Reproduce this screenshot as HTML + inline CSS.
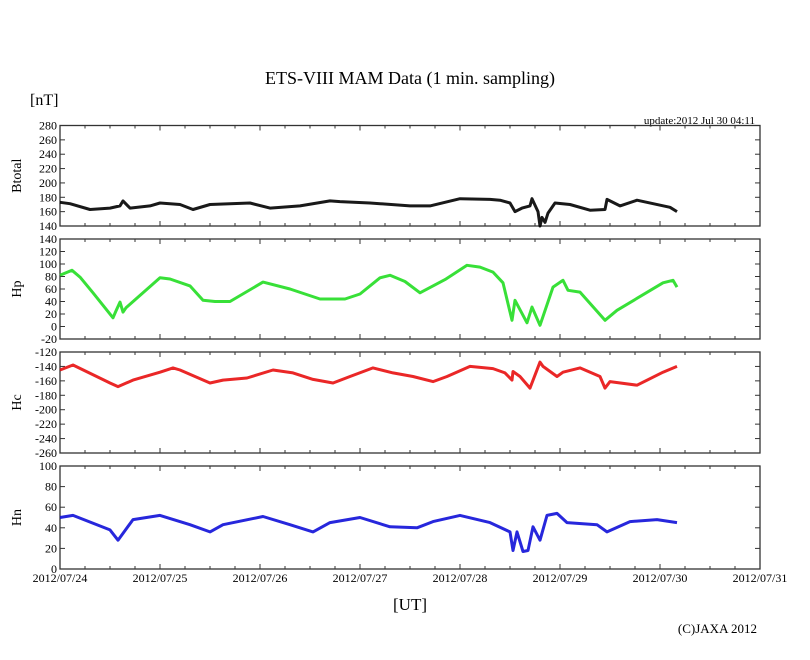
<!DOCTYPE html>
<html><head><meta charset="utf-8"><style>
body{margin:0;background:#fff;width:810px;height:655px;overflow:hidden}
svg text{font-family:"Liberation Serif",serif;fill:#000}
</style></head><body>
<svg id="c" width="810" height="655" xmlns="http://www.w3.org/2000/svg">
<text x="410" y="84" text-anchor="middle" font-size="18">ETS-VIII MAM Data (1 min. sampling)</text>
<text x="30" y="105" font-size="16">[nT]</text>
<text x="755" y="124" text-anchor="end" font-size="11">update:2012 Jul 30 04:11</text>
<text x="410" y="610" text-anchor="middle" font-size="17">[UT]</text>
<text x="757" y="633" text-anchor="end" font-size="13">(C)JAXA 2012</text>
<g id="plots"></g>
</svg>
<script>
// x positions in days since 2012/07/24 00:00
const xTickLabels=["2012/07/24","2012/07/25","2012/07/26","2012/07/27","2012/07/28","2012/07/29","2012/07/30","2012/07/31"];
const btDays=[0,0.1,0.3,0.5,0.6,0.63,0.7,0.9,1.0,1.2,1.33,1.5,1.9,2.1,2.4,2.7,2.8,3.1,3.5,3.7,4.0,4.3,4.4,4.5,4.55,4.62,4.7,4.72,4.78,4.8,4.82,4.85,4.88,4.95,5.1,5.3,5.45,5.47,5.6,5.77,6.1,6.17];
const btVals=[173,171,163,165,168,175,165,168,172,170,163,170,172,165,168,175,174,172,168,168,178,177,176,172,160,165,168,178,160,140,152,145,158,172,170,162,163,177,168,176,166,160];
const hpDays=[0,0.12,0.2,0.33,0.53,0.56,0.6,0.63,0.66,1.0,1.1,1.3,1.43,1.55,1.7,2.03,2.3,2.6,2.85,3.0,3.2,3.3,3.45,3.6,3.85,4.07,4.2,4.33,4.43,4.52,4.55,4.67,4.72,4.8,4.93,5.03,5.08,5.2,5.45,5.57,6.03,6.13,6.17];
const hpVals=[82,90,79,54,14,25,39,23,30,78,76,65,42,40,40,71,60,44,44,52,78,82,72,54,75,98,95,87,70,10,42,6,31,2,63,74,58,55,10,26,70,74,63];
const hcDays=[0,0.13,0.5,0.58,0.73,1.0,1.13,1.2,1.5,1.63,1.87,2.13,2.33,2.53,2.73,2.9,3.13,3.33,3.53,3.73,3.87,4.1,4.33,4.45,4.52,4.53,4.6,4.7,4.8,4.83,4.97,5.03,5.2,5.4,5.45,5.5,5.77,6.03,6.17];
const hcVals=[-145,-138,-163,-168,-159,-148,-142,-145,-163,-159,-156,-145,-149,-158,-163,-154,-142,-149,-154,-161,-154,-140,-143,-149,-159,-147,-154,-170,-134,-140,-154,-148,-142,-154,-170,-161,-166,-148,-140];
const hnDays=[0,0.13,0.5,0.58,0.73,1.0,1.3,1.5,1.63,2.03,2.3,2.53,2.7,3.0,3.3,3.57,3.73,4.0,4.3,4.5,4.53,4.57,4.63,4.68,4.73,4.8,4.87,4.97,5.07,5.37,5.47,5.7,5.97,6.17];
const hnVals=[50,52,38,28,48,52,43,36,43,51,43,36,45,50,41,40,46,52,45,36,18,36,17,18,41,28,52,54,45,43,36,46,48,45];

const X0=60,X1=760,NS='http://www.w3.org/2000/svg';
const xs=d=>X0+(X1-X0)*d/7;
const g=document.getElementById('plots');
function el(t,a,p){const e=document.createElementNS(NS,t);for(const k in a)e.setAttribute(k,a[k]);(p||g).appendChild(e);return e;}
const panels=[
 {name:'btotal',label:'Btotal',top:125.5,bot:226,min:140,max:280,step:20,days:btDays,vals:btVals,color:'#000'},
 {name:'hp',label:'Hp',top:239,bot:339,min:-20,max:140,step:20,days:hpDays,vals:hpVals,color:'#22dd22'},
 {name:'hc',label:'Hc',top:352,bot:453,min:-260,max:-120,step:20,days:hcDays,vals:hcVals,color:'#e81010'},
 {name:'hn',label:'Hn',top:466,bot:569,min:0,max:100,step:20,days:hnDays,vals:hnVals,color:'#1010d8'}
];
panels.forEach((p,pi)=>{
 const n=Math.min(p.days.length,p.vals.length);
 const ys=v=>p.bot-(v-p.min)/(p.max-p.min)*(p.bot-p.top);
 const grp=el('g',{});
 
 
 const fr=el('rect',{x:X0,y:p.top,width:X1-X0,height:p.bot-p.top,fill:'none',stroke:'#333','stroke-width':1.3},grp);
 
 
 for(let i=0;i<=28;i++){
  const x=xs(i/4),L=i%4==0?5:3;
  el('line',{x1:x,x2:x,y1:p.bot,y2:p.bot-L,stroke:'#333'},grp);
  el('line',{x1:x,x2:x,y1:p.top,y2:p.top+L,stroke:'#333'},grp);
 }
 for(let v=p.min;v<=p.max;v+=p.step){
  const y=ys(v);
  el('line',{x1:X0,x2:X0+5,y1:y,y2:y,stroke:'#333'},grp);
  el('line',{x1:X1,x2:X1-5,y1:y,y2:y,stroke:'#333'},grp);
  const t=el('text',{x:X0-3,y:y+4,'text-anchor':'end','font-size':12},grp);
  t.textContent=v;
  
  
 }
 const cy=(p.top+p.bot)/2;
 const yl=el('text',{x:0,y:0,'text-anchor':'middle','font-size':14,transform:`translate(21,${cy}) rotate(-90)`},grp);
 yl.textContent=p.label;
 
 
 const pts=p.days.slice(0,n).map((d,i)=>xs(d).toFixed(1)+','+ys(p.vals[i]).toFixed(1)).join(' ');
 const ln=el('polyline',{points:pts,fill:'none',stroke:p.color,'stroke-width':3,'stroke-linejoin':'round',opacity:0.9},grp);
 
 
});
xTickLabels.forEach((s,i)=>{
 const t=el('text',{x:xs(i),y:582,'text-anchor':'middle','font-size':12});
 t.textContent=s;
 
 
});
</script>
</body></html>
